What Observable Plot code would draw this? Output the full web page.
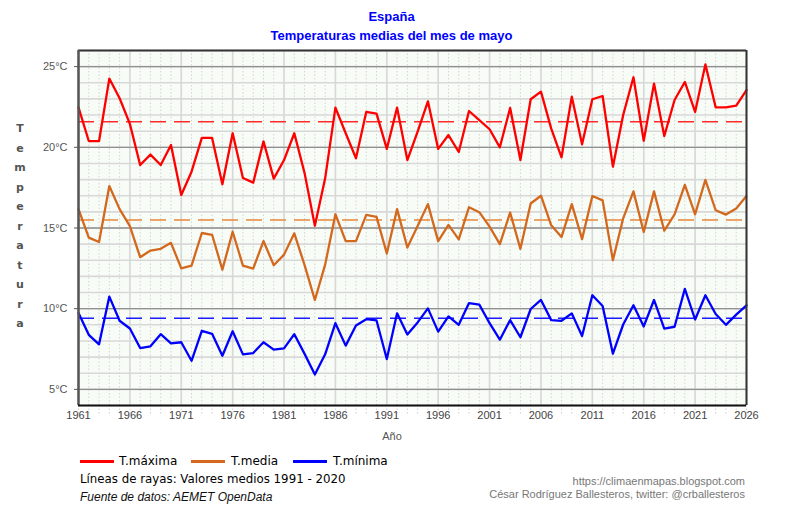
<!DOCTYPE html>
<html>
<head>
<meta charset="utf-8">
<script src="https://cdn.jsdelivr.net/npm/d3@7"></script>
<script src="https://cdn.jsdelivr.net/npm/@observablehq/plot@0.6"></script>
<style>
  body { margin: 0; background: #fff; }
  #wrap { position: relative; width: 785px; height: 506px; overflow: hidden;
          font-family: "Liberation Sans", Arial, sans-serif; }
  #chart { position: absolute; left: 0; top: 0; }
  .t { position: absolute; white-space: nowrap; line-height: 1; }
  .title { left: 0; width: 783px; text-align: center; color: #0000ff; font-weight: bold; font-size: 13px; }
  .ylab { width: 20px; left: 10px; text-align: center; font-weight: bold; font-size: 11px; color: #555;
          font-family: "DejaVu Sans", sans-serif; }
  .leg { font-family: "DejaVu Sans", sans-serif; font-size: 12px; color: #000; }
  .swatch { position: absolute; height: 2.5px; }
  .credit { right: 40px; text-align: right; font-size: 11px; color: #777; }
</style>
</head>
<body>
<div id="wrap">
  <div class="t title" style="top:10px">España</div>
  <div class="t title" style="top:29px">Temperaturas medias del mes de mayo</div>
  <div id="ylabel"></div>
  <div id="chart"></div>
  <div class="t" style="left:372px;width:40px;text-align:center;top:431px;font-size:11px;color:#555">Año</div>
  <div id="legend"></div>
  <div class="t leg" style="left:80px;top:474px;font-size:11.8px">Líneas de rayas: Valores medios 1991 - 2020</div>
  <div class="t" style="left:80px;top:491px;font-size:12px;font-style:italic;color:#111">Fuente de datos: AEMET OpenData</div>
  <div class="t credit" style="top:476px">https://climaenmapas.blogspot.com</div>
  <div class="t credit" style="top:489px">César Rodríguez Ballesteros, twitter: @crballesteros</div>
</div>
<script>
// Temperaturas medias del mes de mayo en España (°C), una entrada por año desde 1961
const firstYear = 1961;

const tmax = [22.48, 20.39, 20.39, 24.26, 23.04, 21.45, 18.9, 19.55, 18.9, 20.14,
              17.05, 18.49, 20.58, 20.58, 17.71, 20.87, 18.1, 17.81, 20.37, 18.06,
              19.21, 20.87, 18.4, 15.14, 18.08, 22.46, 20.87, 19.32, 22.19, 22.09,
              19.9, 22.46, 19.21, 20.97, 22.85, 19.9, 20.76, 19.71, 22.25, 21.69,
              21.12, 20.0, 22.44, 19.21, 22.98, 23.45, 21.16, 19.38, 23.14, 20.19,
              22.98, 23.18, 18.8, 22.0, 24.34, 20.41, 23.95, 20.7, 22.93, 24.05,
              22.19, 25.14, 22.48, 22.48, 22.58, 23.55];

const tmed = [16.17, 14.40, 14.13, 17.6, 16.17, 15.12, 13.19, 13.6, 13.71, 14.08,
              12.5, 12.67, 14.69, 14.58, 12.42, 14.77, 12.67, 12.48, 14.19, 12.69,
              13.35, 14.67, 12.7, 10.54, 12.73, 15.85, 14.19, 14.19, 15.81, 15.69,
              13.42, 16.17, 13.79, 15.12, 16.48, 14.19, 15.19, 14.29, 16.29, 15.98,
              15.08, 14.0, 15.96, 13.71, 16.52, 17.0, 15.17, 14.44, 16.48, 14.31,
              16.98, 16.71, 13.0, 15.6, 17.27, 14.75, 17.27, 14.83, 15.85, 17.67,
              15.85, 17.98, 16.1, 15.83, 16.21, 16.98];

const tmin = [9.73, 8.38, 7.79, 10.75, 9.25, 8.77, 7.56, 7.67, 8.42, 7.85,
              7.92, 6.77, 8.63, 8.44, 7.08, 8.6, 7.17, 7.25, 7.92, 7.46,
              7.54, 8.42, 7.2, 5.92, 7.17, 9.1, 7.71, 8.96, 9.35, 9.27,
              6.88, 9.71, 8.4, 9.15, 10.02, 8.58, 9.52, 9.0, 10.35, 10.25,
              9.1, 8.08, 9.29, 8.23, 9.98, 10.54, 9.29, 9.25, 9.71, 8.31,
              10.83, 10.17, 7.21, 9.02, 10.21, 8.9, 10.54, 8.77, 8.88, 11.23,
              9.33, 10.83, 9.67, 9.0, 9.63, 10.21];

// Valores medios 1991 - 2020 (líneas de rayas)
const meanMax = 21.59;
const meanMed = 15.49;
const meanMin = 9.41;

const seriesNames = ["T.máxima", "T.media", "T.mínima"];
const seriesColors = ["#ff0000", "#d2691e", "#0000ff"];
const meanColors = ["#ff2a2a", "#e8883a", "#1a1aff"];

const xTicks = [1961, 1966, 1971, 1976, 1981, 1986, 1991, 1996, 2001, 2006, 2011, 2016, 2021, 2026];
const yTicks = [5, 10, 15, 20, 25];
const yMinor = d3.range(4, 27);
const years = tmax.map((_, i) => firstYear + i);
const allYears = d3.range(1961, 2027);

const chart = Plot.plot({
  width: 785,
  height: 445,
  marginLeft: 78,
  marginRight: 39,
  marginTop: 50,
  marginBottom: 40,
  style: { background: "transparent", fontFamily: "Liberation Sans, Arial, sans-serif", fontSize: "11px" },
  x: { domain: [1961, 2026] },
  y: { domain: [4, 26] },
  marks: [
    Plot.frame({ fill: "#f8fcf6", stroke: null }),
    // rejilla
    Plot.ruleX(allYears, { x: d => d, stroke: "#d4d4d4", strokeDasharray: "1.5,2", strokeWidth: 1 }),
    Plot.ruleX(allYears, { x: d => d, y1: 4, y2: 3.45, stroke: "#d0d0d0", strokeDasharray: "1.5,2", strokeWidth: 1 }),
    Plot.ruleX(xTicks, { x: d => d, stroke: "#d8d8d8", strokeWidth: 1.6 }),
    Plot.ruleY(yMinor, { y: d => d, stroke: "#d8d8d8", strokeWidth: 1.6 }),
    Plot.ruleY(yTicks, { y: d => d, stroke: "#909090", strokeWidth: 1.3 }),
    // medias 1991-2020
    Plot.ruleY([meanMax], { y: d => d, stroke: meanColors[0], strokeWidth: 1.5, strokeDasharray: "16,8" }),
    Plot.ruleY([meanMed], { y: d => d, stroke: meanColors[1], strokeWidth: 1.5, strokeDasharray: "16,8" }),
    Plot.ruleY([meanMin], { y: d => d, stroke: meanColors[2], strokeWidth: 1.5, strokeDasharray: "16,8" }),
    // series anuales
    Plot.line(tmax, { x: years, y: tmax, stroke: seriesColors[0], strokeWidth: 2.3 }),
    Plot.line(tmed, { x: years, y: tmed, stroke: seriesColors[1], strokeWidth: 2.3 }),
    Plot.line(tmin, { x: years, y: tmin, stroke: seriesColors[2], strokeWidth: 2.3 }),
    // marco
    Plot.ruleY([26], { stroke: "#333", strokeWidth: 2 }),
    Plot.ruleX([2026], { stroke: "#333", strokeWidth: 2 }),
    Plot.ruleX([1961], { stroke: "#555", strokeWidth: 2.5 }),
    Plot.ruleY([4], { stroke: "#111", strokeWidth: 2 }),
    // ejes
    Plot.axisY({ ticks: yTicks, tickFormat: d => d + "°C", tickSize: 4, tickPadding: 7,
                 color: "#555", fontSize: 11, label: null }),
    Plot.axisX({ ticks: xTicks, tickFormat: d => String(d), tickSize: 0, tickPadding: 6,
                 color: "#444", fontSize: 11, label: null })
  ]
});
document.getElementById("chart").appendChild(chart);

// Título vertical del eje Y, una letra por línea
const ylabel = document.getElementById("ylabel");
"Temperatura".split("").forEach((ch, i) => {
  const d = document.createElement("div");
  d.className = "t ylab";
  d.style.top = (123 + i * 19.5) + "px";
  d.textContent = ch;
  ylabel.appendChild(d);
});

// Leyenda
const legend = document.getElementById("legend");
const legendPos = [[80, 119], [191, 231], [293, 333]];
seriesNames.forEach((name, i) => {
  const [lx, tx] = legendPos[i];
  const sw = document.createElement("div");
  sw.className = "swatch";
  sw.style.left = lx + "px";
  sw.style.top = "460px";
  sw.style.width = "34px";
  sw.style.background = seriesColors[i];
  legend.appendChild(sw);
  const t = document.createElement("div");
  t.className = "t leg";
  t.style.left = tx + "px";
  t.style.top = "455px";
  t.textContent = name;
  legend.appendChild(t);
});
</script>
</body>
</html>
